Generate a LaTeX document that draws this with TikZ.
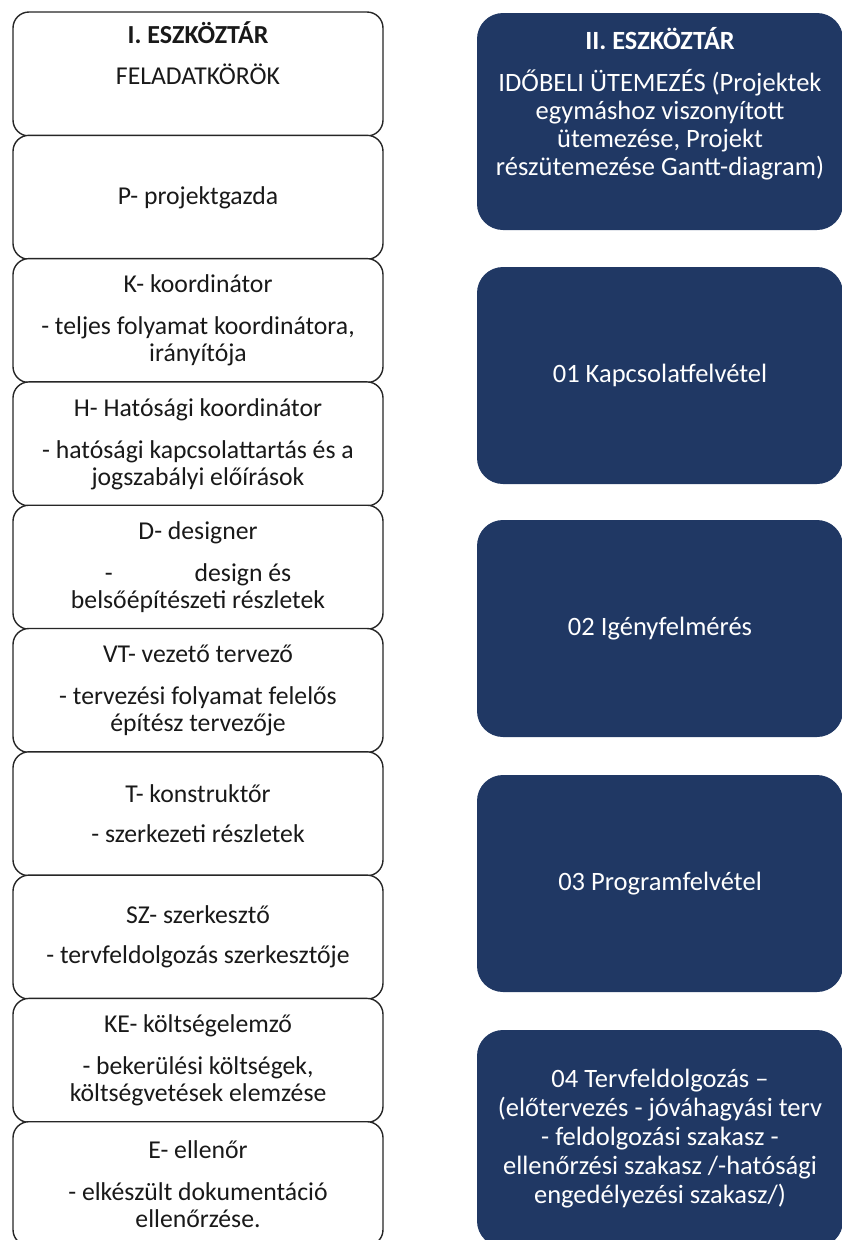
\documentclass[tikz,border=0pt]{standalone}
\usepackage{fontspec}
\setmainfont{Carlito}
\definecolor{navy}{RGB}{32,56,100}
\definecolor{lborder}{RGB}{38,38,38}
\definecolor{ltxt}{RGB}{25,25,25}
\begin{document}
\begin{tikzpicture}[x=1pt,y=-1pt,
  lbox/.style={draw=lborder, line width=1.4pt, fill=white, rounded corners=16pt,
    minimum width=370pt, minimum height=124pt, align=center, text=ltxt,
    font=\fontsize{25.7}{27}\selectfont, inner sep=0pt},
  ltext/.style={align=center, text=ltxt, font=\fontsize{25.7}{27}\selectfont, inner sep=0pt},
  rbox/.style={fill=navy, rounded corners=26pt, minimum width=366pt, minimum height=217pt,
    align=center, text=white, font=\fontsize{26.5}{29}\selectfont, inner sep=0pt},
  rtext/.style={align=center, text=white, font=\fontsize{26.5}{28}\selectfont, inner sep=0pt}]
\useasboundingbox (0,0) rectangle (842,1240);
% left column
\node[lbox] (b1) at (198,74) {};
\node[ltext, anchor=north] (b1t) at ([yshift=-10pt]b1.north) {{\fontsize{26}{27}\selectfont\bfseries I. ESZKÖZTÁR}\\[14pt]FELADATKÖRÖK};
\node[lbox] (b2) at (198,197.3) {P- projektgazda};
\node[lbox] (b3) at (198,320.6) {K- koordinátor\\[15pt]- teljes folyamat koordinátora,\\irányítója};
\node[lbox] (b4) at (198,443.9) {H- Hatósági koordinátor\\[15pt]- hatósági kapcsolattartás és a\\jogszabályi előírások};
\node[lbox] (b5) at (198,567.2) {D- designer\\[15pt]-\hspace{82pt}design és\\belsőépítészeti részletek};
\node[lbox] (b6) at (198,690.5) {VT- vezető tervező\\[15pt]- tervezési folyamat felelős\\építész tervezője};
\node[lbox] (b7) at (198,813.8) {T- konstruktőr\\[13pt]- szerkezeti részletek};
\node[lbox] (b8) at (198,937.1) {SZ- szerkesztő\\[13pt]- tervfeldolgozás szerkesztője};
\node[lbox] (b9) at (198,1060.4) {KE- költségelemző\\[15pt]- bekerülési költségek,\\költségvetések elemzése};
\node[lbox] (b10) at (198,1183.7) {E- ellenőr\\[15pt]- elkészült dokumentáció\\ellenőrzése.};
% right column
\node[rbox] (r1) at (660,121.5) {};
\node[rtext, anchor=north] (r1t) at ([yshift=-14pt]r1.north) {{\fontsize{26.3}{28}\selectfont\bfseries II. ESZKÖZTÁR}\\[14pt]IDŐBELI ÜTEMEZÉS (Projektek\\egymáshoz viszonyított\\ütemezése, Projekt\\részütemezése Gantt-diagram)};
\node[rbox] (r2) at (660,375.5) {01 Kapcsolatfelvétel};
\node[rbox] (r3) at (660,628.5) {02 Igényfelmérés};
\node[rbox] (r4) at (660,883.5) {03 Programfelvétel};
\node[rbox] (r5) at (660,1138.5) {04 Tervfeldolgozás –\\(előtervezés - jóváhagyási terv\\- feldolgozási szakasz -\\ellenőrzési szakasz /-hatósági\\engedélyezési szakasz/)};
\end{tikzpicture}
\end{document}
